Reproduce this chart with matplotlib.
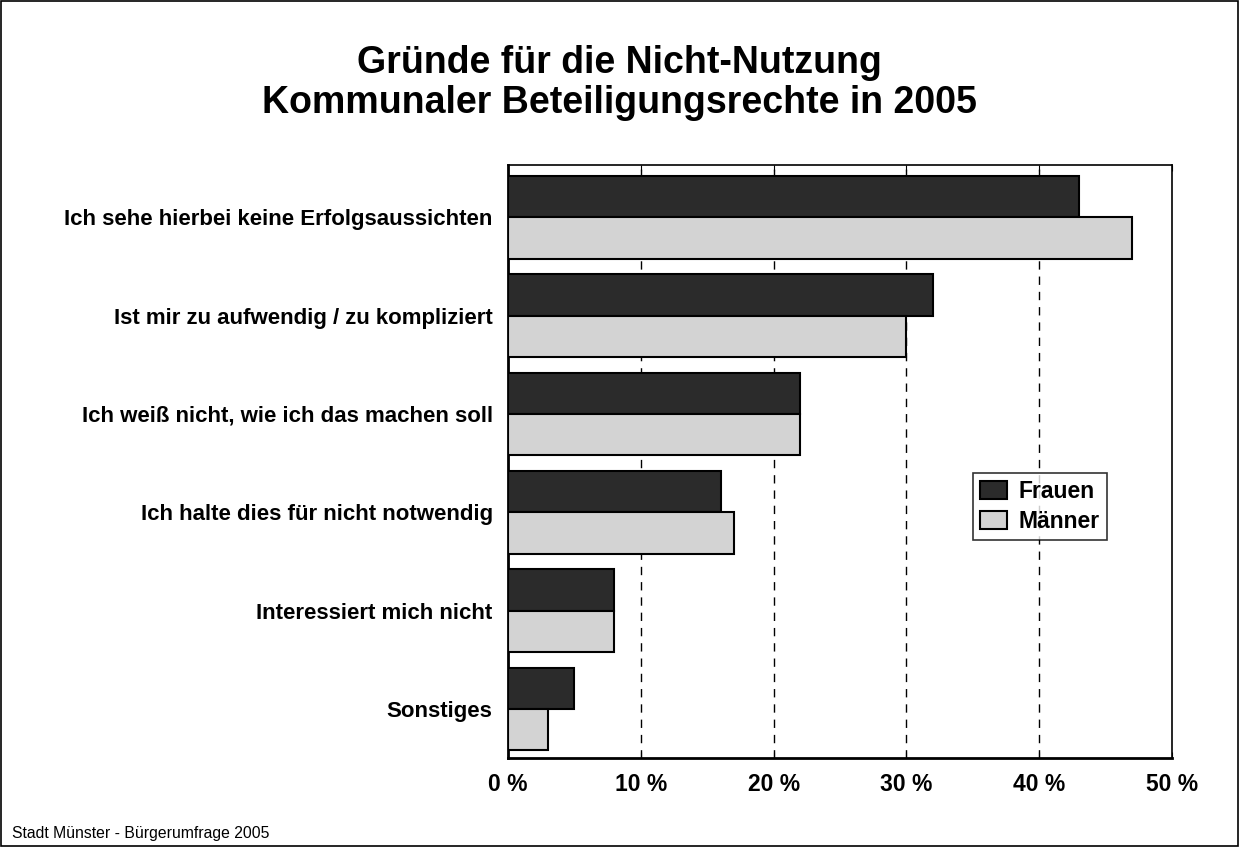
import matplotlib
matplotlib.use("Agg")
import matplotlib.pyplot as plt
import numpy as np
from matplotlib.patches import Rectangle

categories = [
    "Ich sehe hierbei keine Erfolgsaussichten",
    "Ist mir zu aufwendig / zu kompliziert",
    "Ich weiß nicht, wie ich das machen soll",
    "Ich halte dies für nicht notwendig",
    "Interessiert mich nicht",
    "Sonstiges",
]
frauen = [43, 32, 22, 16, 8, 5]
maenner = [47, 30, 22, 17, 8, 3]
xticks = [0, 10, 20, 30, 40, 50]
xtick_labels = ["0 %", "10 %", "20 %", "30 %", "40 %", "50 %"]

plt.rcParams['font.family'] = ['Liberation Sans', 'DejaVu Sans']

fig = plt.figure(figsize=(12.39, 8.47), dpi=100)
fig.patches.append(Rectangle((0.001, 0.001), 0.998, 0.998, transform=fig.transFigure,
                             fill=False, edgecolor='black', linewidth=1.2))

ax = fig.add_axes([0.410, 0.105, 0.536, 0.700])
y = np.arange(len(categories))
h = 0.42
ax.barh(y - h / 2, frauen, height=h, color='#2b2b2b', edgecolor='black', linewidth=1.5,
        label='Frauen', zorder=3)
ax.barh(y + h / 2, maenner, height=h, color='#d3d3d3', edgecolor='black', linewidth=1.5,
        label='Männer', zorder=3)

ax.set_xlim(0, 50)
ax.set_ylim(5.5, -0.53)
ax.set_xticks(xticks)
ax.set_xticklabels(xtick_labels, fontsize=16.5, fontweight='bold')
ax.set_yticks(y)
ax.set_yticklabels(categories, fontsize=16, fontweight='bold')
ax.tick_params(axis='y', length=0, pad=11)
ax.tick_params(axis='x', length=4, direction='in', pad=11, top=True)
for x in xticks[1:-1]:
    ax.axvline(x, color='black', linestyle=(0, (6, 5)), linewidth=1, zorder=1)
for s in ax.spines.values():
    s.set_linewidth(1.2)
ax.spines['left'].set_linewidth(2)
ax.spines['bottom'].set_linewidth(2)

leg = fig.legend(*ax.get_legend_handles_labels(), loc='upper left',
                 bbox_to_anchor=(973 / 1239, 1 - 473 / 847), frameon=True, fancybox=False,
                 edgecolor='black', prop={'size': 16.5, 'weight': 'bold'},
                 handlelength=1.2, handleheight=0.8, handletextpad=0.5, borderpad=0.3,
                 labelspacing=0.3, borderaxespad=0)
leg.get_frame().set_linewidth(1.2)

fig.text(0.5, 1 - 73 / 847, "Gründe für die Nicht-Nutzung",
         ha='center', va='baseline', fontsize=27, fontweight='bold')
fig.text(0.5, 1 - 113 / 847, "Kommunaler Beteiligungsrechte in 2005",
         ha='center', va='baseline', fontsize=27, fontweight='bold')
fig.text(12 / 1239, 1 - 841 / 847, "Stadt Münster - Bürgerumfrage 2005", fontsize=11.3,
         ha='left', va='bottom')

fig.savefig("out.png", dpi=100)
